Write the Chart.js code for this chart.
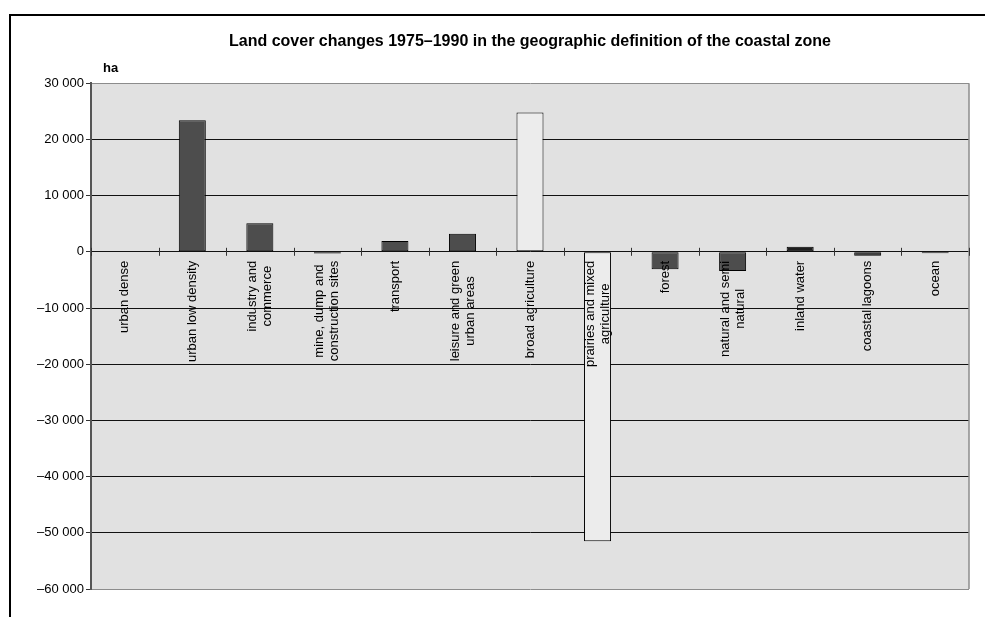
<!DOCTYPE html>
<html>
<head>
<meta charset="utf-8">
<script src="https://cdn.jsdelivr.net/npm/chart.js@4/dist/chart.umd.min.js"></script>
<style>
  html, body { margin: 0; padding: 0; background: #fff; }
  #wrap { width: 985px; height: 617px; position: relative; }
</style>
</head>
<body>
<div id="wrap"><canvas id="mychart"></canvas></div>
<script>
var categories = [
  'urban dense',
  'urban low density',
  ['industry and', 'commerce'],
  ['mine, dump and', 'construction sites'],
  'transport',
  ['leisure and green', 'urban areas'],
  'broad agriculture',
  ['prairies and mixed', 'agriculture'],
  'forest',
  ['natural and semi', 'natural'],
  'inland water',
  'coastal lagoons',
  'ocean'
];
var changes = [0, 23400, 5100, -300, 1900, 3200, 24800, -51500, -3100, -3400, 900, -700, -250];
var barColors = ['#4d4d4d', '#4d4d4d', '#4d4d4d', '#222222', '#4d4d4d', '#4d4d4d', '#ececec',
                 '#ececec', '#4d4d4d', '#4d4d4d', '#1e1e1e', '#1e1e1e', '#1e1e1e'];
var yTicks = [30000, 20000, 10000, 0, -10000, -20000, -30000, -40000, -50000, -60000];
var titleText = 'Land cover changes 1975\u20131990 in the geographic definition of the coastal zone';
var unitText = 'ha';

var FONT = '"Liberation Sans", Arial, sans-serif';

function fmt(v) {
  var s = Math.abs(v).toString().replace(/\B(?=(\d{3})+(?!\d))/g, ' ');
  return (v < 0 ? '\u2013' : '') + s;
}

// plot background, tick marks on the zero line, category labels, frame
var decor = {
  id: 'decor',
  beforeDraw: function(chart) {
    var a = chart.chartArea, ctx = chart.ctx;
    ctx.save();
    ctx.fillStyle = '#e1e1e1';
    ctx.fillRect(a.left, a.top, a.right - a.left, a.bottom - a.top);
    ctx.restore();
  },
  afterDatasetsDraw: function(chart) {
    var a = chart.chartArea, ctx = chart.ctx;
    var x = chart.scales.x, y = chart.scales.y;
    var y0 = y.getPixelForValue(0);
    var half = (x.getPixelForValue(1) - x.getPixelForValue(0)) / 2;
    ctx.save();

    // right border of plot
    ctx.strokeStyle = '#8c8c8c';
    ctx.lineWidth = 1.5;
    ctx.beginPath();
    ctx.moveTo(a.right, a.top);
    ctx.lineTo(a.right, a.bottom);
    ctx.stroke();

    // category tick marks crossing the zero line
    ctx.strokeStyle = '#333';
    ctx.lineWidth = 1;
    for (var i = 0; i <= categories.length; i++) {
      var tx = Math.round(x.getPixelForValue(i) - half) + 0.5;
      ctx.beginPath();
      ctx.moveTo(tx, y0 - 4);
      ctx.lineTo(tx, y0 + 4);
      ctx.stroke();
    }

    // rotated category labels below the zero line
    ctx.fillStyle = '#000';
    ctx.font = '13px ' + FONT;
    ctx.textBaseline = 'middle';
    ctx.textAlign = 'center';
    var lh = 15;
    categories.forEach(function(c, i) {
      var lines = Array.isArray(c) ? c : [c];
      var w = 0;
      lines.forEach(function(l) { w = Math.max(w, ctx.measureText(l).width); });
      ctx.save();
      ctx.translate(x.getPixelForValue(i), y0 + 9);
      ctx.rotate(-Math.PI / 2);
      lines.forEach(function(l, k) {
        ctx.fillText(l, -w / 2, (k - (lines.length - 1) / 2) * lh);
      });
      ctx.restore();
    });

    // unit label
    ctx.font = 'bold 13px ' + FONT;
    ctx.textAlign = 'left';
    ctx.fillText(unitText, a.left + 12, a.top - 15);

    // outer frame
    ctx.strokeStyle = '#000';
    ctx.lineWidth = 2;
    ctx.beginPath();
    ctx.moveTo(10, chart.height);
    ctx.lineTo(10, 15);
    ctx.lineTo(chart.width, 15);
    ctx.stroke();
    ctx.restore();
  }
};

var ctx = document.getElementById('mychart');
var myChart = new Chart(ctx, {
  type: 'bar',
  data: {
    labels: categories,
    datasets: [{
      data: changes,
      backgroundColor: barColors,
      borderColor: '#000',
      borderWidth: 1,
      borderSkipped: false,
      barPercentage: 0.4,
      categoryPercentage: 1.0
    }]
  },
  options: {
    responsive: true,
    maintainAspectRatio: false,
    animation: false,
    layout: { padding: { left: 11, right: 16, top: 0, bottom: 28 } },
    plugins: {
      legend: { display: false },
      tooltip: { enabled: false },
      title: {
        display: true,
        text: titleText,
        fullSize: false,
        color: '#000',
        font: { family: FONT, size: 16, weight: 'bold' },
        padding: { top: 32, bottom: 32 }
      }
    },
    scales: {
      x: {
        display: false,
        offset: true
      },
      y: {
        min: -60000,
        max: 30000,
        afterFit: function(s) { s.width = 80; },
        afterBuildTicks: function(s) {
          s.ticks = yTicks.map(function(v) { return { value: v }; });
        },
        border: { display: true, color: '#555', width: 2 },
        grid: {
          color: function(c) {
            var v = c.tick ? c.tick.value : null;
            if (v === 30000 || v === -60000) return '#8c8c8c';
            return '#111';
          },
          tickColor: '#333',
          tickLength: 5,
          lineWidth: 1
        },
        ticks: {
          color: '#000',
          padding: 2,
          font: { family: FONT, size: 13 },
          callback: function(v) { return fmt(v); }
        }
      }
    }
  },
  plugins: [decor]
});
</script>
</body>
</html>
